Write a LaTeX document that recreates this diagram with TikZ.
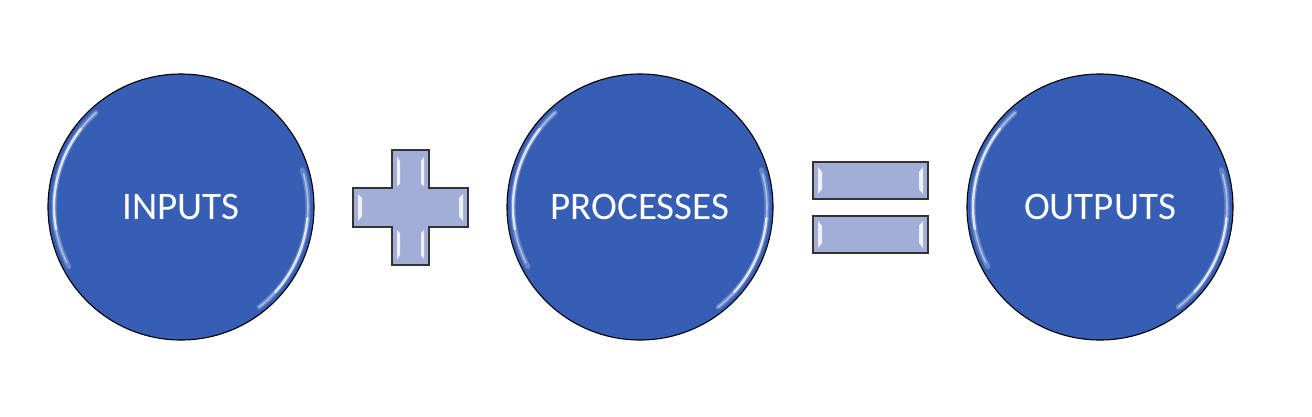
\documentclass[tikz,border=0pt]{standalone}
\usepackage{fontspec}
\setmainfont{Carlito}
\definecolor{discblue}{RGB}{54,94,181}
\definecolor{symfill}{RGB}{162,174,216}
\tikzset{
  disc/.style={circle, minimum size=266pt, inner sep=0pt, fill=discblue, draw=black, line width=1.1pt,
    text=white, font=\fontsize{39}{42}\selectfont},
  sym/.style={fill=symfill, draw=black!80, line width=1.3pt},
  shine/.style={white, line width=2.4pt, opacity=0.8, line cap=round},
  glow/.style={white, line width=5pt, opacity=0.25, line cap=round},
  bevel/.style={fill=white, draw=none, opacity=0.85}
}
\begin{document}
\begin{tikzpicture}[x=1pt,y=-1pt]
\useasboundingbox (0,0) rectangle (1312,416);
\fill[white] (0,0) rectangle (1312,416);
% discs
\node[disc] (in) at (181,207) {INPUTS};
\node[disc] (pr) at (640,207) {PROCESSES};
\node[disc] (out) at (1100,207) {OUTPUTS};
\foreach \c in {in,pr,out}{
  % upper-left / left highlight (page angles 135..205)
  \draw[glow] (\c.center) ++(-132:127) arc[start angle=-132, end angle=-208, radius=127];
  \draw[shine] (\c.center) ++(-142:127) arc[start angle=-142, end angle=-190, radius=127];
  \draw[shine, opacity=0.45, line width=1.6pt] (\c.center) ++(-132:127) arc[start angle=-132, end angle=-142, radius=127];
  \draw[shine, opacity=0.45, line width=1.6pt] (\c.center) ++(-190:127) arc[start angle=-190, end angle=-206, radius=127];
  % right / lower-right highlight (page angles 15..-50)
  \draw[glow] (\c.center) ++(-17:127) arc[start angle=-17, end angle=52, radius=127];
  \draw[shine] (\c.center) ++(5:127) arc[start angle=5, end angle=42, radius=127];
  \draw[shine, opacity=0.45, line width=1.6pt] (\c.center) ++(-15:127) arc[start angle=-15, end angle=5, radius=127];
  \draw[shine, opacity=0.45, line width=1.6pt] (\c.center) ++(42:127) arc[start angle=42, end angle=52, radius=127];
}
% plus
\draw[sym] (392,150) -- (429,150) -- (429,188) -- (468,188) -- (468,227) -- (429,227) -- (429,265)
  -- (392,265) -- (392,227) -- (353,227) -- (353,188) -- (392,188) -- cycle;
\fill[bevel] (397,157) -- (400,161) -- (400,184) -- (397,186) -- cycle;
\fill[bevel] (424,157) -- (421,161) -- (421,184) -- (424,186) -- cycle;
\fill[bevel] (397,230) -- (400,233) -- (400,255) -- (397,259) -- cycle;
\fill[bevel] (424,230) -- (421,233) -- (421,255) -- (424,259) -- cycle;
\fill[bevel] (358,194) -- (362,198) -- (362,216) -- (358,221) -- cycle;
\fill[bevel] (463,194) -- (459,198) -- (459,216) -- (463,221) -- cycle;
% equals
\draw[sym] (813,162) rectangle (928,199);
\draw[sym] (813,216) rectangle (928,253);
\fill[bevel] (818,167) -- (822,172) -- (822,189) -- (818,194) -- cycle;
\fill[bevel] (923,167) -- (919,172) -- (919,189) -- (923,194) -- cycle;
\fill[bevel] (818,221) -- (822,226) -- (822,243) -- (818,248) -- cycle;
\fill[bevel] (923,221) -- (919,226) -- (919,243) -- (923,248) -- cycle;
\end{tikzpicture}
\end{document}
